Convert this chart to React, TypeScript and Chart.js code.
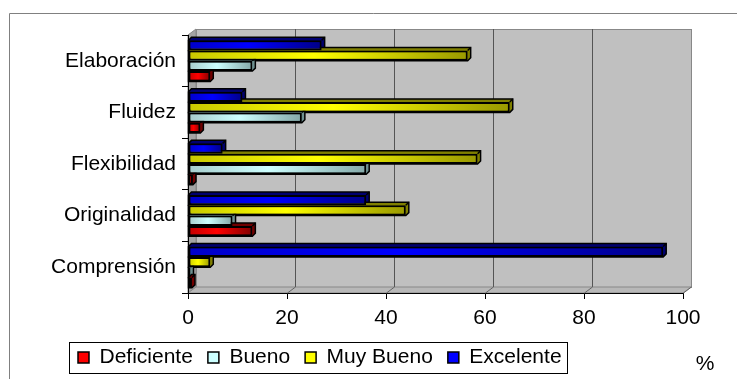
import React, { useEffect, useRef } from 'react';
import { Chart, registerables } from 'chart.js';

Chart.register(...registerables);

// ---- data ----
const categories = ['Elaboración', 'Fluidez', 'Flexibilidad', 'Originalidad', 'Comprensión'];
const deficiente = [4.5, 2.5, 1, 13, 0.8];
const bueno = [13, 23, 36, 9, 0.5];
const muyBueno = [56.5, 65, 58.5, 44, 4.5];
const excelente = [27, 11, 7, 36, 96];
const xMin = 0;
const xMax = 100;
const xStep = 20;
const unitLabel = '%';

const FONT = "'Liberation Sans', Arial, Helvetica, sans-serif";

type Shade = { bright: string; mid: string; dark: string; depth: string };
const palette: Record<string, Shade> = {
  Deficiente: { bright: '#FF0000', mid: '#C00000', dark: '#800000', depth: '#700000' },
  Bueno: { bright: '#CCFFFF', mid: '#A6CCCC', dark: '#84A8A8', depth: '#6E9090' },
  'Muy Bueno': { bright: '#FFFF00', mid: '#C8C800', dark: '#999900', depth: '#808000' },
  Excelente: { bright: '#0000FF', mid: '#0000C8', dark: '#000088', depth: '#000070' },
};

function barFill(name: string) {
  return (ctx: any) => {
    const c = palette[name];
    const chart = ctx.chart;
    if (ctx.type !== 'data' || !chart.chartArea || !chart.scales || !chart.scales.x) return c.bright;
    const xs = chart.scales.x;
    const x0 = xs.getPixelForValue(0);
    const x1 = xs.getPixelForValue(ctx.parsed ? ctx.parsed.x : 0);
    if (!isFinite(x0) || !isFinite(x1) || x1 - x0 < 2) return c.mid;
    const g = chart.ctx.createLinearGradient(x0, 0, x1, 0);
    g.addColorStop(0, c.mid);
    g.addColorStop(0.45, c.bright);
    g.addColorStop(1, c.dark);
    return g;
  };
}

const WALL_DX = 8;
const WALL_DY = -6;
const BAR_DX = 3;
const BAR_DY = -3;

const excel3d = {
  id: 'excel3d',
  afterLayout(chart: any) {
    const lg = chart.legend;
    if (!lg) return;
    const pad = lg.options.labels.padding;
    lg.left = 63;
    lg.right = chart.width;
    lg.top = 347 - pad;
    lg.bottom = lg.top + lg.height;
  },
  beforeDraw(chart: any) {
    const { ctx, chartArea: a } = chart;
    ctx.save();
    // outer chart frame (top and left edges visible)
    ctx.strokeStyle = '#808080';
    ctx.lineWidth = 1;
    ctx.beginPath();
    ctx.moveTo(9.5, chart.height);
    ctx.lineTo(9.5, 13.5);
    ctx.lineTo(chart.width, 13.5);
    ctx.stroke();

    // back wall
    ctx.fillStyle = '#C0C0C0';
    ctx.fillRect(a.left + WALL_DX, a.top + WALL_DY, a.right - a.left, a.bottom - a.top);
    ctx.strokeStyle = '#888888';
    ctx.strokeRect(a.left + WALL_DX + 0.5, a.top + WALL_DY + 0.5, a.right - a.left, a.bottom - a.top);
    // side wall
    ctx.fillStyle = '#A4A4A4';
    ctx.beginPath();
    ctx.moveTo(a.left, a.top);
    ctx.lineTo(a.left + WALL_DX, a.top + WALL_DY);
    ctx.lineTo(a.left + WALL_DX, a.bottom + WALL_DY);
    ctx.lineTo(a.left, a.bottom);
    ctx.closePath();
    ctx.fill();
    ctx.stroke();
    // floor
    ctx.fillStyle = '#B8B8B8';
    ctx.beginPath();
    ctx.moveTo(a.left, a.bottom);
    ctx.lineTo(a.left + WALL_DX, a.bottom + WALL_DY);
    ctx.lineTo(a.right + WALL_DX, a.bottom + WALL_DY);
    ctx.lineTo(a.right, a.bottom);
    ctx.closePath();
    ctx.fill();
    ctx.stroke();
    ctx.restore();
  },
  beforeDatasetsDraw(chart: any) {
    const { ctx, chartArea: a } = chart;
    const xs = chart.scales.x;
    ctx.save();
    // back-wall gridlines and floor diagonals
    xs.ticks.forEach((t: any) => {
      const px = Math.round(xs.getPixelForValue(t.value)) + 0.5;
      ctx.strokeStyle = '#555555';
      ctx.lineWidth = 1;
      if (t.value > xMin && t.value < xMax) {
        ctx.beginPath();
        ctx.moveTo(px + WALL_DX, a.top + WALL_DY);
        ctx.lineTo(px + WALL_DX, a.bottom + WALL_DY);
        ctx.stroke();
      }
      if (t.value > xMin) {
        ctx.strokeStyle = '#666666';
        ctx.beginPath();
        ctx.moveTo(px, a.bottom);
        ctx.lineTo(px + WALL_DX, a.bottom + WALL_DY);
        ctx.stroke();
      }
    });
    // bar depth (top & side faces)
    chart.data.datasets.forEach((ds: any, di: number) => {
      const meta = chart.getDatasetMeta(di);
      const shade = palette[ds.label];
      meta.data.forEach((el: any) => {
        const p = el.getProps(['x', 'y', 'base', 'height'], true);
        const x0 = Math.min(p.base, p.x);
        const x1 = Math.max(p.base, p.x);
        const y0 = p.y - p.height / 2;
        const y1 = p.y + p.height / 2;
        ctx.fillStyle = shade.depth;
        ctx.strokeStyle = '#000';
        ctx.lineWidth = 1.5;
        ctx.beginPath();
        ctx.moveTo(x0, y0);
        ctx.lineTo(x0 + BAR_DX, y0 + BAR_DY);
        ctx.lineTo(x1 + BAR_DX, y0 + BAR_DY);
        ctx.lineTo(x1 + BAR_DX, y1 + BAR_DY);
        ctx.lineTo(x1, y1);
        ctx.lineTo(x0, y1);
        ctx.closePath();
        ctx.fill();
        ctx.stroke();
        ctx.beginPath();
        ctx.moveTo(x1, y0);
        ctx.lineTo(x1 + BAR_DX, y0 + BAR_DY);
        ctx.stroke();
      });
    });
    ctx.restore();
  },
  afterDraw(chart: any) {
    const { ctx } = chart;
    const lg = chart.legend;
    ctx.save();
    if (lg && lg.legendHitBoxes && lg.legendHitBoxes.length) {
      const hb = lg.legendHitBoxes;
      const first = hb[0];
      const last = hb[hb.length - 1];
      const x0 = Math.round(first.left - 9) + 0.5;
      const x1 = Math.round(last.left + last.width + 5) + 0.5;
      const y0 = Math.round(first.top - 5) + 0.5;
      const y1 = Math.round(first.top + first.height + 5) + 0.5;
      ctx.strokeStyle = '#000';
      ctx.lineWidth = 1;
      ctx.strokeRect(x0, y0, x1 - x0, y1 - y0);
    }
    ctx.fillStyle = '#000';
    ctx.font = `21px ${FONT}`;
    ctx.textAlign = 'center';
    ctx.textBaseline = 'middle';
    ctx.fillText(unitLabel, 705, 364);
    ctx.restore();
  },
};

export default function App() {
  const ref = useRef<HTMLCanvasElement | null>(null);

  useEffect(() => {
    if (!ref.current) return;
    const seriesOrder = [
      { label: 'Excelente', data: excelente },
      { label: 'Muy Bueno', data: muyBueno },
      { label: 'Bueno', data: bueno },
      { label: 'Deficiente', data: deficiente },
    ];
    const chart = new Chart(ref.current, {
      type: 'bar',
      data: {
        labels: categories,
        datasets: seriesOrder.map((s) => ({
          label: s.label,
          data: s.data,
          backgroundColor: barFill(s.label),
          borderColor: '#000000',
          borderWidth: 2,
          borderSkipped: false,
          categoryPercentage: 0.8,
          barPercentage: 1.0,
        })),
      },
      options: {
        indexAxis: 'y',
        animation: false,
        responsive: true,
        maintainAspectRatio: false,
        layout: { padding: { top: 35, right: 54, left: 0, bottom: 0 } },
        scales: {
          x: {
            min: xMin,
            max: xMax,
            ticks: { stepSize: xStep, color: '#000', font: { size: 21, family: FONT }, padding: 7 },
            grid: { drawOnChartArea: false, drawTicks: true, tickLength: 6, color: '#000' },
            border: { display: true, color: '#000' },
            afterFit: (s: any) => { s.height = 40; },
          },
          y: {
            ticks: { color: '#000', font: { size: 21, family: FONT }, padding: 6 },
            grid: { drawOnChartArea: false, drawTicks: true, tickLength: 6, color: '#000', offset: true },
            border: { display: true, color: '#000' },
            afterFit: (s: any) => { s.width = 188; },
          },
        },
        plugins: {
          tooltip: { enabled: false },
          legend: {
            display: true,
            position: 'bottom',
            align: 'start',
            reverse: true,
            labels: {
              color: '#000',
              font: { size: 21, family: FONT },
              boxWidth: 11,
              boxHeight: 11,
              padding: 15,
              generateLabels: (c: any) =>
                c.data.datasets.map((ds: any, i: number) => ({
                  text: ds.label,
                  fillStyle: palette[ds.label].bright,
                  strokeStyle: '#000',
                  lineWidth: 1.5,
                  hidden: false,
                  datasetIndex: i,
                  fontColor: '#000',
                })),
            },
          },
        },
      },
      plugins: [excel3d],
    } as any);
    return () => chart.destroy();
  }, []);

  return (
    <div style={{ position: 'absolute', left: 0, top: 0, width: 737, height: 379, background: '#fff' }}>
      <canvas ref={ref} />
    </div>
  );
}
